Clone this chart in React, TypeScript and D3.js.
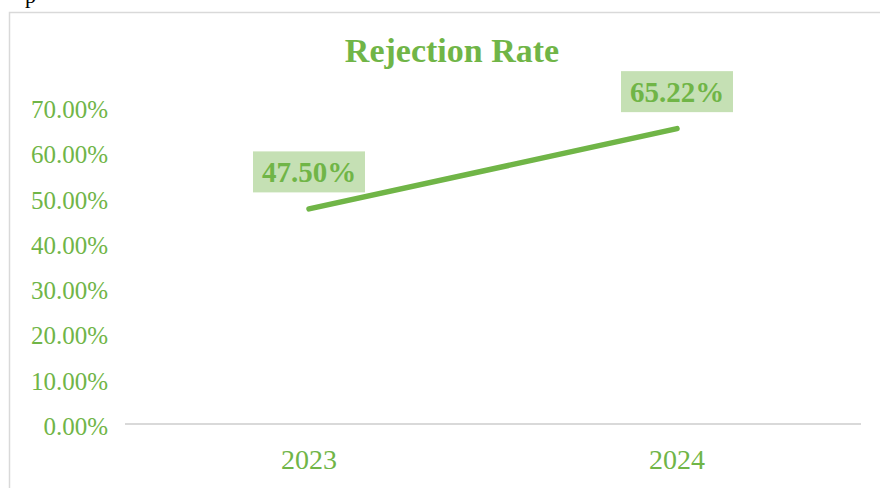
import * as d3 from "d3";
import { useEffect } from "react";
import * as React from "react";

const years = ["2023", "2024"];
const rejectionRate = [0.475, 0.6522];
const rateLabels = ["47.50%", "65.22%"];
const yTicks = [0, 0.1, 0.2, 0.3, 0.4, 0.5, 0.6, 0.7];

const GREEN = "#70b547";
const LABEL_BG = "#c5e0b4";
const FONT = "'Liberation Serif', 'Times New Roman', serif";

const RejectionChart: React.FC = () => {
  useEffect(() => {
    const width = 880;
    const height = 488;

    const svg = d3
      .select("#chart")
      .append("svg")
      .attr("width", width)
      .attr("height", height)
      .style("display", "block")
      .style("font-family", FONT);

    // stray text from the page above the chart (cut off in the original too)
    svg
      .append("text")
      .attr("x", 25)
      .attr("y", 3)
      .attr("font-size", 22)
      .attr("fill", "#000")
      .text("p");

    // chart border
    svg
      .append("rect")
      .attr("x", 9.5)
      .attr("y", 12.5)
      .attr("width", 880)
      .attr("height", 500)
      .attr("fill", "#fff")
      .attr("stroke", "#d9d9d9")
      .attr("stroke-width", 1.5);

    // title
    svg
      .append("text")
      .attr("x", 452)
      .attr("y", 62)
      .attr("text-anchor", "middle")
      .attr("font-size", 34)
      .attr("font-weight", "bold")
      .attr("fill", GREEN)
      .text("Rejection Rate");

    const x = d3.scaleBand().domain(years).range([125, 861]).padding(0);
    const y = d3.scaleLinear().domain([0, 0.7]).range([424, 107]);

    // y labels (no gridlines)
    svg
      .append("g")
      .selectAll("text")
      .data(yTicks)
      .enter()
      .append("text")
      .attr("x", 108)
      .attr("y", (d) => y(d) + 11)
      .attr("text-anchor", "end")
      .attr("font-size", 25)
      .attr("fill", GREEN)
      .text((d) => d3.format(".2%")(d));

    // baseline
    svg
      .append("line")
      .attr("x1", 125)
      .attr("x2", 861)
      .attr("y1", y(0))
      .attr("y2", y(0))
      .attr("stroke", "#d9d9d9")
      .attr("stroke-width", 2);

    // x labels
    svg
      .append("g")
      .selectAll("text")
      .data(years)
      .enter()
      .append("text")
      .attr("x", (d) => (x(d) as number) + x.bandwidth() / 2)
      .attr("y", 469)
      .attr("text-anchor", "middle")
      .attr("font-size", 28)
      .attr("fill", GREEN)
      .text((d) => d);

    const pts: [number, number][] = years.map((d, i) => [
      (x(d) as number) + x.bandwidth() / 2,
      y(rejectionRate[i]),
    ]);

    // line
    svg
      .append("path")
      .attr("d", d3.line()(pts))
      .attr("fill", "none")
      .attr("stroke", GREEN)
      .attr("stroke-width", 5.5)
      .attr("stroke-linecap", "round");

    // data labels
    const lbl = svg
      .append("g")
      .selectAll("g")
      .data(pts)
      .enter()
      .append("g")
      .attr("transform", (p) => `translate(${p[0]},${p[1] - 37})`);

    lbl
      .append("rect")
      .attr("x", -56)
      .attr("y", -20.5)
      .attr("width", 112)
      .attr("height", 41)
      .attr("fill", LABEL_BG);

    lbl
      .append("text")
      .attr("y", 10)
      .attr("text-anchor", "middle")
      .attr("font-size", 29)
      .attr("font-weight", "bold")
      .attr("fill", GREEN)
      .text((_, i) => rateLabels[i]);

    return () => {
      d3.select("#chart").select("svg").remove();
    };
  });

  return (
    <div
      id="chart"
      style={{ position: "absolute", left: 0, top: 0, width: 880, height: 488, overflow: "hidden" }}
    ></div>
  );
};

export default function App() {
  return <RejectionChart />;
}
